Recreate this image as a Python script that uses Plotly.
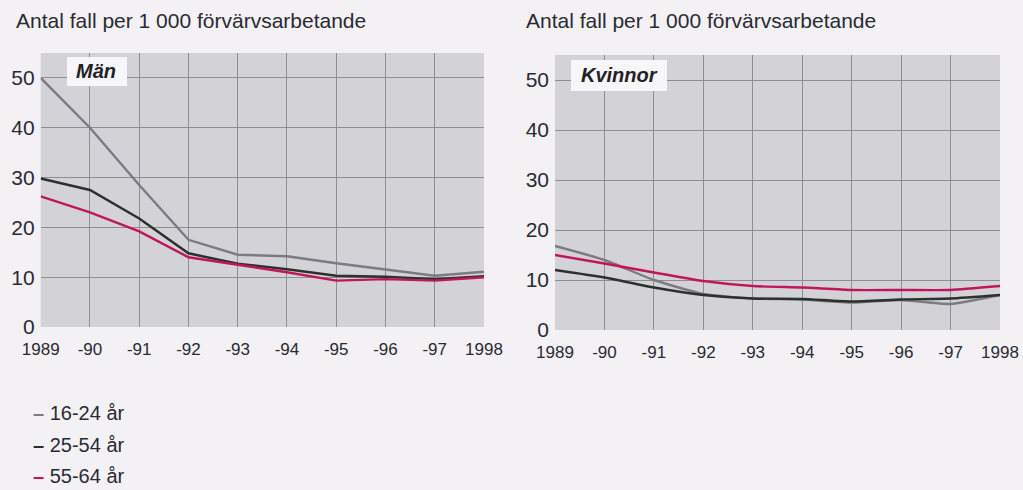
import plotly.graph_objects as go

years = [1989, 1990, 1991, 1992, 1993, 1994, 1995, 1996, 1997, 1998]
tick_labels = ["1989", "-90", "-91", "-92", "-93", "-94", "-95", "-96", "-97", "1998"]
series_names = ["16-24 år", "25-54 år", "55-64 år"]

man_16_24 = [50.0, 40.0, 28.5, 17.5, 14.5, 14.2, 12.8, 11.5, 10.3, 11.1]
man_25_54 = [29.8, 27.5, 21.8, 14.8, 12.7, 11.6, 10.3, 10.1, 9.6, 10.2]
man_55_64 = [26.2, 23.0, 19.2, 14.0, 12.5, 11.0, 9.3, 9.6, 9.3, 10.0]

kv_16_24 = [16.8, 14.0, 10.0, 7.2, 6.3, 6.1, 5.5, 6.0, 5.2, 7.0]
kv_25_54 = [12.0, 10.5, 8.5, 7.0, 6.3, 6.2, 5.7, 6.1, 6.3, 7.0]
kv_55_64 = [15.0, 13.3, 11.5, 9.8, 8.8, 8.5, 8.0, 8.0, 8.0, 8.8]

y_ticks = [0, 10, 20, 30, 40, 50]
title_text = "Antal fall per 1 000 förvärvsarbetande"

colors = ["#7b7b82", "#2b312c", "#c2165c"]
FONT = "Liberation Sans, Arial, Helvetica, sans-serif"
PAGE_BG = "#f3f1f4"

fig = go.Figure()

for vals, c, n in zip([man_16_24, man_25_54, man_55_64], colors, series_names):
    fig.add_trace(go.Scatter(x=years, y=vals, mode="lines", name=n,
                             line=dict(color=c, width=2.4), xaxis="x", yaxis="y",
                             showlegend=False))
for vals, c, n in zip([kv_16_24, kv_25_54, kv_55_64], colors, series_names):
    fig.add_trace(go.Scatter(x=years, y=vals, mode="lines", name=n,
                             line=dict(color=c, width=2.4, shape="spline", smoothing=0.5),
                             xaxis="x2", yaxis="y2", showlegend=False))

def xax(domain, anchor):
    return dict(domain=domain, anchor=anchor, range=[1989, 1998], automargin=False,
                tickvals=years, ticktext=tick_labels, showgrid=True,
                gridcolor="#8e8e93", gridwidth=1, zeroline=False, showline=False,
                ticks="", ticklabelstandoff=10,
                tickfont=dict(family=FONT, size=17, color="#2a2a35"), fixedrange=True)

def yax(domain, anchor):
    return dict(domain=domain, anchor=anchor, range=[0, 55], automargin=False,
                tickvals=y_ticks, showgrid=True, gridcolor="#8e8e93", gridwidth=1,
                zeroline=False, showline=False, ticks="", ticklabelstandoff=5,
                tickfont=dict(family=FONT, size=21, color="#2a2a35"), fixedrange=True)

W, H = 1023, 490
fig.update_layout(
    width=W, height=H,
    margin=dict(l=0, r=0, t=0, b=0),
    paper_bgcolor=PAGE_BG,
    plot_bgcolor="#d3d2d7",
    xaxis=xax([40.7 / W, 484 / W], "y"),
    yaxis=yax([(H - 327) / H, (H - 53) / H], "x"),
    xaxis2=xax([555 / W, 1000 / W], "y2"),
    yaxis2=yax([(H - 330) / H, (H - 55) / H], "x2"),
    showlegend=False,
)

# Background boxes for panel labels
fig.add_shape(type="rect", xref="paper", yref="paper",
              x0=67 / W, x1=127 / W, y0=(H - 86) / H, y1=(H - 57) / H,
              fillcolor="#f7f6f8", line=dict(width=0), layer="above")
fig.add_shape(type="rect", xref="paper", yref="paper",
              x0=571 / W, x1=667 / W, y0=(H - 91) / H, y1=(H - 60) / H,
              fillcolor="#f7f6f8", line=dict(width=0), layer="above")

annotations = [
    dict(text=title_text, x=14 / W, y=(H - 20) / H, xanchor="left", yanchor="middle",
         font=dict(family=FONT, size=21, color="#2a2a35")),
    dict(text=title_text, x=524 / W, y=(H - 20) / H, xanchor="left", yanchor="middle",
         font=dict(family=FONT, size=21, color="#2a2a35")),
    dict(text="<b><i>Män</i></b>", x=96 / W, y=(H - 71) / H, xanchor="center", yanchor="middle",
         font=dict(family=FONT, size=20, color="#222228")),
    dict(text="<b><i>Kvinnor</i></b>", x=619 / W, y=(H - 75) / H, xanchor="center", yanchor="middle",
         font=dict(family=FONT, size=20, color="#222228")),
]
for i, (n, c) in enumerate(zip(series_names, colors)):
    annotations.append(dict(
        text=f"<b><span style='color:{c}'>–</span></b> {n}",
        x=31 / W, y=(H - (413 + 31.5 * i)) / H, xanchor="left", yanchor="middle",
        font=dict(family=FONT, size=20, color="#2a2a35")))

for a in annotations:
    a.update(xref="paper", yref="paper", showarrow=False)
fig.update_layout(annotations=annotations)

fig.write_html(
    "out.html",
    config={"displayModeBar": False},
    post_script=(
        "document.body.style.margin='0';"
        "document.body.style.padding='0';"
        "document.body.style.overflow='hidden';"
        f"document.body.style.background='{PAGE_BG}';"
    ),
)
